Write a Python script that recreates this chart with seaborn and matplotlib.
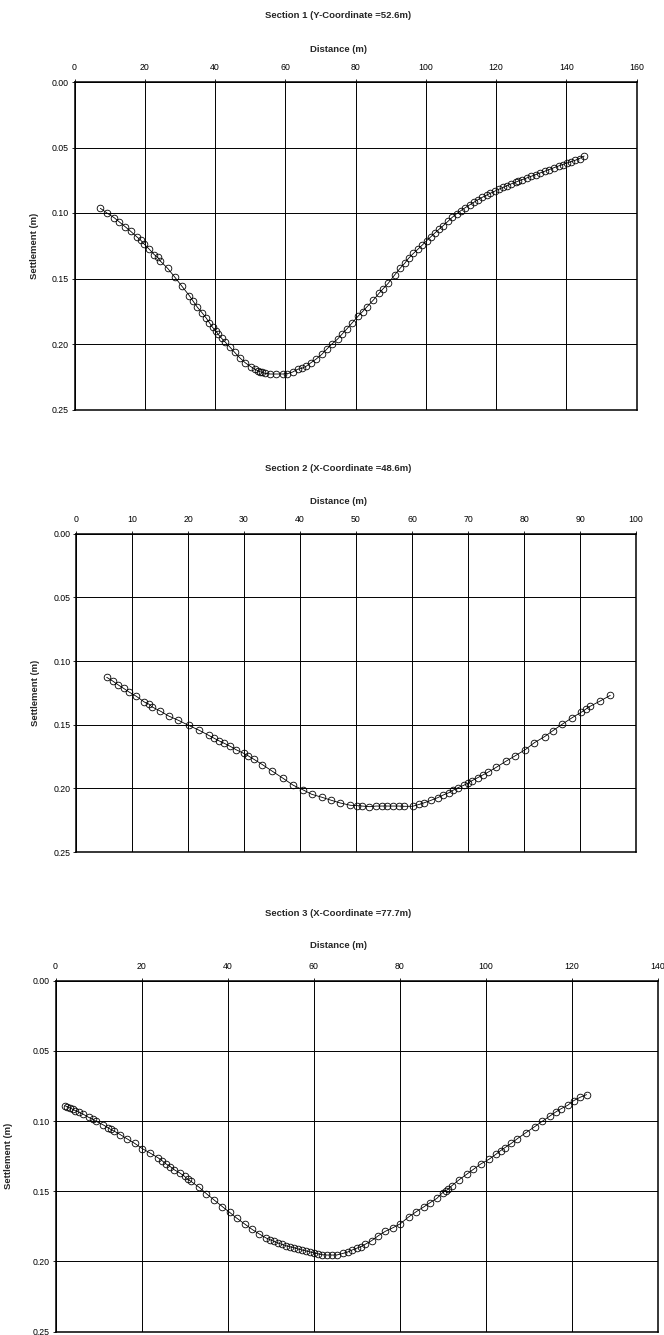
import numpy as np
import matplotlib
matplotlib.use("Agg")
import matplotlib.pyplot as plt
import seaborn as sns

# Valores (distância em m, recalque em m)
s1_dist = [7.35, 9.35, 11.3, 12.8, 14.4, 16.0, 17.7, 18.8, 19.9, 21.3,
           22.7, 23.7, 24.4, 26.5, 28.6, 30.6, 32.7, 33.8, 35.0, 36.3,
           37.5, 38.4, 39.3, 40.2, 40.9, 41.9, 42.9, 44.3, 45.6, 47.0,
           48.6, 50.2, 51.4, 52.1, 52.7, 53.5, 54.2, 55.7, 57.4, 59.3,
           60.6, 62.1, 63.5, 64.7, 65.9, 67.3, 68.8, 70.4, 71.8, 73.2,
           74.9, 76.2, 77.6, 79.1, 80.8, 82.0, 83.3, 85.1, 86.7, 87.8,
           89.3, 91.2, 92.7, 94.0, 95.1, 96.5, 97.7, 99.0, 100.3, 101.5,
           102.6, 103.8, 105.0, 106.3, 107.5, 108.8, 110.0, 111.2, 112.5, 113.7,
           114.9, 116.1, 117.3, 118.4, 119.6, 120.8, 122.0, 123.2, 124.4, 125.6,
           126.3, 127.5, 128.7, 130.0, 131.3, 132.6, 133.9, 135.2, 136.5, 137.8,
           139.0, 140.2, 141.4, 142.6, 143.8, 145.1]
s1_settle = [0.0964, 0.1002, 0.1036, 0.1069, 0.1104, 0.1140, 0.1181, 0.1206, 0.1239, 0.1277,
             0.1318, 0.1338, 0.1366, 0.1422, 0.1491, 0.1560, 0.1631, 0.1674, 0.1720, 0.1761,
             0.1802, 0.1837, 0.1873, 0.1898, 0.1926, 0.1957, 0.1985, 0.2025, 0.2064, 0.2104,
             0.2143, 0.2173, 0.2193, 0.2203, 0.2211, 0.2216, 0.2224, 0.2229, 0.2229, 0.2229,
             0.2227, 0.2214, 0.2193, 0.2186, 0.2171, 0.2143, 0.2115, 0.2079, 0.2040, 0.2002,
             0.1962, 0.1924, 0.1883, 0.1837, 0.1786, 0.1753, 0.1715, 0.1664, 0.1613, 0.1580,
             0.1537, 0.1471, 0.1422, 0.1384, 0.1346, 0.1308, 0.1278, 0.1245, 0.1210, 0.1180,
             0.1152, 0.1124, 0.1096, 0.1064, 0.1034, 0.1005, 0.0982, 0.0960, 0.0938, 0.0918,
             0.0898, 0.0880, 0.0864, 0.0849, 0.0834, 0.0819, 0.0805, 0.0791, 0.0777, 0.0764,
             0.0757, 0.0745, 0.0733, 0.0720, 0.0707, 0.0694, 0.0681, 0.0668, 0.0654, 0.0641,
             0.0630, 0.0619, 0.0608, 0.0597, 0.0584, 0.0565]

s2_dist = [5.48, 6.55, 7.55, 8.51, 9.46, 10.77, 12.2, 13.0, 13.6, 15.05,
           16.55, 18.3, 20.1, 22.0, 23.7, 24.6, 25.5, 26.5, 27.55, 28.6,
           29.95, 30.8, 31.7, 33.3, 35.0, 36.9, 38.8, 40.5, 42.1, 43.9,
           45.6, 47.2, 49.0, 50.2, 51.1, 52.4, 53.6, 54.7, 55.6, 56.6,
           57.6, 58.6, 60.1, 61.3, 62.2, 63.4, 64.6, 65.6, 66.6, 67.3,
           68.2, 69.2, 70.0, 70.7, 71.7, 72.6, 73.5, 75.0, 76.7, 78.4,
           80.2, 81.8, 83.7, 85.2, 86.8, 88.6, 90.2, 91.0, 91.8, 93.6,
           95.4]
s2_settle = [0.1128, 0.1157, 0.1188, 0.1215, 0.1243, 0.1277, 0.1322, 0.1338, 0.1361, 0.1393,
             0.1432, 0.1466, 0.1505, 0.1544, 0.1584, 0.1605, 0.1626, 0.1647, 0.1670, 0.1697,
             0.1725, 0.1746, 0.1770, 0.1814, 0.1864, 0.1919, 0.1976, 0.2011, 0.2047, 0.2070,
             0.2094, 0.2115, 0.2133, 0.2136, 0.2139, 0.2144, 0.2139, 0.2139, 0.2139, 0.2139,
             0.2139, 0.2141, 0.2141, 0.2126, 0.2113, 0.2094, 0.2073, 0.2052, 0.2034, 0.2016,
             0.1995, 0.1977, 0.1959, 0.1940, 0.1917, 0.1896, 0.1875, 0.1836, 0.1789, 0.1745,
             0.1697, 0.1643, 0.1593, 0.1546, 0.1497, 0.1445, 0.1403, 0.1379, 0.1356, 0.1314,
             0.1270]

s3_dist = [2.21, 2.74, 3.37, 4.0, 4.6, 5.4, 6.47, 7.72, 8.65, 9.42,
           11.0, 12.2, 12.8, 13.7, 15.07, 16.6, 18.4, 20.2, 22.0, 23.8,
           24.8, 25.6, 26.7, 27.6, 28.9, 30.0, 30.7, 31.5, 33.4, 35.1,
           36.9, 38.8, 40.5, 42.1, 44.0, 45.7, 47.4, 49.0, 49.9, 50.8,
           51.7, 52.7, 53.6, 54.5, 55.5, 56.4, 57.3, 58.3, 59.2, 60.1,
           61.0, 62.0, 63.1, 64.2, 65.4, 66.9, 68.0, 69.0, 70.0, 71.0,
           72.0, 73.5, 75.0, 76.7, 78.5, 80.2, 82.1, 83.9, 85.6, 87.1,
           88.7, 90.0, 90.7, 91.3, 92.1, 93.8, 95.6, 97.2, 98.9, 100.8,
           102.5, 103.5, 104.5, 106.0, 107.4, 109.4, 111.4, 113.2, 114.9, 116.3,
           117.6, 119.1, 120.5, 122.0, 123.5]
s3_settle = [0.0891, 0.0898, 0.0907, 0.0916, 0.0926, 0.0936, 0.0952, 0.0974, 0.0986, 0.1002,
             0.1026, 0.1047, 0.1059, 0.1073, 0.1097, 0.1126, 0.1159, 0.1197, 0.1228, 0.1261,
             0.1283, 0.1304, 0.1325, 0.1347, 0.1370, 0.1394, 0.1413, 0.1430, 0.1472, 0.1518,
             0.1563, 0.1610, 0.1651, 0.1691, 0.1734, 0.1772, 0.1805, 0.1834, 0.1846, 0.1857,
             0.1869, 0.1879, 0.1889, 0.1896, 0.1903, 0.1912, 0.1919, 0.1926, 0.1933, 0.1940,
             0.1946, 0.1953, 0.1955, 0.1955, 0.1955, 0.1943, 0.1933, 0.1919, 0.1907, 0.1896,
             0.1879, 0.1853, 0.1819, 0.1786, 0.1760, 0.1732, 0.1684, 0.1646, 0.1613, 0.1582,
             0.1551, 0.1511, 0.1497, 0.1487, 0.1463, 0.1420, 0.1380, 0.1344, 0.1306, 0.1273,
             0.1235, 0.1211, 0.1190, 0.1159, 0.1126, 0.1083, 0.1041, 0.1002, 0.0966, 0.0936,
             0.0912, 0.0888, 0.0855, 0.0831, 0.0812]

titles = ["Section 1 (Y-Coordinate =52.6m)",
          "Section 2 (X-Coordinate =48.6m)",
          "Section 3 (X-Coordinate =77.7m)"]
x_ticks = [list(range(0, 161, 20)), list(range(0, 101, 10)), list(range(0, 141, 20))]
y_ticks = [0.00, 0.05, 0.10, 0.15, 0.20, 0.25]

# Estilo
sns.set_style("white")
plt.rcParams['font.family'] = ['Liberation Sans', 'DejaVu Sans']

W, H = 664, 1335
fig = plt.figure(figsize=(W / 100, H / 100), dpi=100)

# caixas dos gráficos em pixels: esquerda, topo, direita, base
boxes = [(74.5, 82, 636.5, 409.5), (76, 533.7, 636, 852), (55.5, 980.7, 657.5, 1331.5)]
title_y = [15, 468, 913]
dist_y = [49, 501, 946]
ylabel_x = [39, 40, 13]
dados = [(s1_dist, s1_settle), (s2_dist, s2_settle), (s3_dist, s3_settle)]

for i, (l, t, r, b) in enumerate(boxes):
    ax = fig.add_axes([l / W, 1 - b / H, (r - l) / W, (b - t) / H])
    dist, settle = dados[i]
    sns.lineplot(x=dist, y=settle, ax=ax, sort=False, estimator=None,
                 color='black', linewidth=0.6, marker='o', markersize=4.8,
                 markerfacecolor='none', markeredgecolor='black', markeredgewidth=0.6)
    ax.set_xlim(x_ticks[i][0], x_ticks[i][-1])
    ax.set_ylim(0.25, 0.0)
    ax.set_xticks(x_ticks[i])
    ax.set_yticks(y_ticks)
    ax.set_yticklabels([f"{v:.2f}" for v in y_ticks])
    ax.xaxis.tick_top()
    ax.grid(True, color='black', linewidth=0.7)
    ax.set_axisbelow(True)
    for sp in ax.spines.values():
        sp.set_visible(True)
        sp.set_color('black')
        sp.set_linewidth(1.1)
    ax.tick_params(axis='x', which='both', top=True, bottom=False, direction='out',
                   length=2.5, width=0.6, pad=4.5, labelsize=6.3, colors='black')
    ax.tick_params(axis='y', which='both', left=True, direction='out',
                   length=2.5, width=0.6, pad=1.5, labelsize=6.3, colors='black')
    ax.set_xlabel("")
    ax.set_ylabel("Settlement (m)", fontsize=6.8, fontweight='bold')
    ax.yaxis.set_label_coords((ylabel_x[i] - l) / (r - l), 0.5)

    fig.text(338 / W, 1 - title_y[i] / H, titles[i], ha='center', va='center',
             fontsize=6.8, fontweight='bold')
    fig.text(338 / W, 1 - dist_y[i] / H, "Distance (m)", ha='center', va='center',
             fontsize=6.8, fontweight='bold')

fig.savefig("out.png", dpi=100)
